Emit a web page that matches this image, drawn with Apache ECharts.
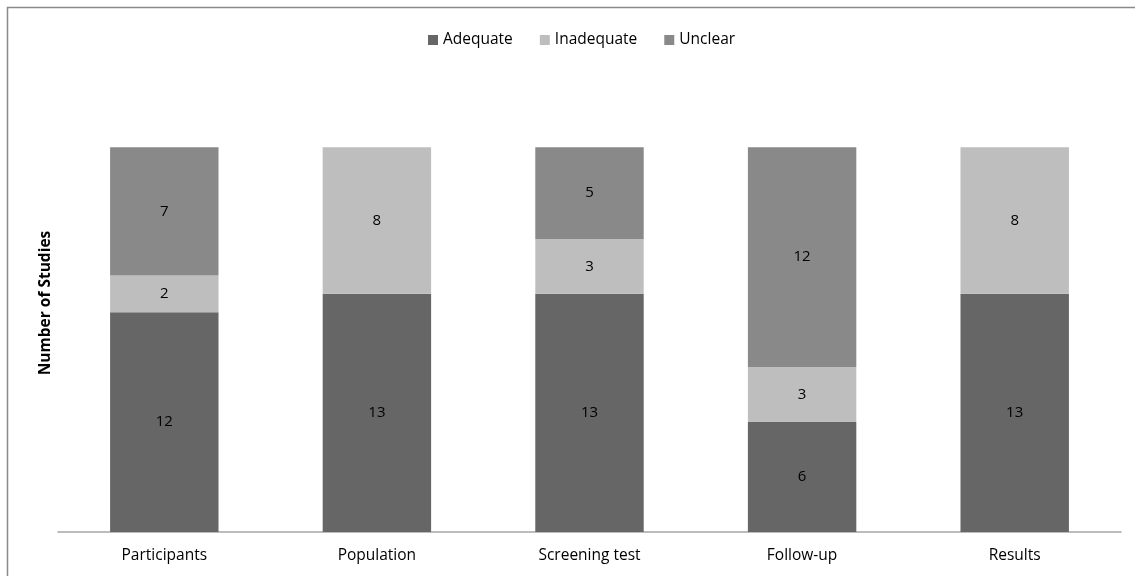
<!DOCTYPE html>
<html>
<head>
<meta charset="utf-8">
<script src="https://cdn.jsdelivr.net/npm/echarts@6/dist/echarts.min.js"></script>
<style>
  html, body { margin: 0; padding: 0; background: #fff; }
  #chart { width: 1135px; height: 576px; }
</style>
</head>
<body>
<div id="chart"></div>
<script>
// Quality assessment of included studies, per domain
const categories = ['Participants', 'Population', 'Screening test', 'Follow-up', 'Results'];
const adequate   = [12, 13, 13, 6, 13];
const inadequate = [2, 8, 3, 3, 8];
const unclear    = [7, 0, 5, 12, 0];

const FONT = '"Open Sans", "Liberation Sans", sans-serif';

function stackSeries(name, data, color) {
  return {
    name: name,
    type: 'bar',
    stack: 'total',
    barWidth: '51%',
    data: data.map(v => (v === 0 ? null : v)),
    itemStyle: { color: color },
    label: {
      show: true,
      position: 'inside',
      color: '#000',
      fontFamily: FONT,
      fontSize: 15,
      formatter: p => (p.value ? p.value : '')
    },
    emphasis: { disabled: true }
  };
}

const chart = echarts.init(document.getElementById('chart'));
chart.setOption({
  animation: false,
  backgroundColor: '#fff',
  graphic: [{
    type: 'rect',
    shape: { x: 7.5, y: 7.5, width: 1140, height: 600 },
    style: { fill: 'none', stroke: '#8a8a8a', lineWidth: 1.5 },
    silent: true
  }],
  legend: {
    top: 27,
    left: 423,
    itemWidth: 10,
    itemHeight: 10,
    itemGap: 27,
    icon: 'rect',
    textStyle: { fontFamily: FONT, fontSize: 15.5, color: '#000' },
    data: ['Adequate', 'Inadequate', 'Unclear']
  },
  grid: { left: 58, right: 14, top: 74, bottom: 44 },
  xAxis: {
    type: 'category',
    data: categories,
    axisLine: { show: true, lineStyle: { color: '#a6a6a6', width: 1.5 } },
    axisTick: { show: false },
    axisLabel: { color: '#000', fontFamily: FONT, fontSize: 15.5, margin: 16 }
  },
  yAxis: {
    type: 'value',
    min: 0,
    max: 25,
    interval: 5,
    name: 'Number of Studies',
    nameLocation: 'middle',
    nameGap: 4,
    nameTextStyle: { fontFamily: FONT, fontSize: 15.5, fontWeight: 'bold', color: '#000' },
    axisLine: { show: false },
    axisTick: { show: false },
    axisLabel: { show: false },
    splitLine: { show: false }
  },
  series: [
    stackSeries('Adequate', adequate, '#666666'),
    stackSeries('Inadequate', inadequate, '#bebebe'),
    stackSeries('Unclear', unclear, '#898989')
  ]
});
</script>
</body>
</html>
